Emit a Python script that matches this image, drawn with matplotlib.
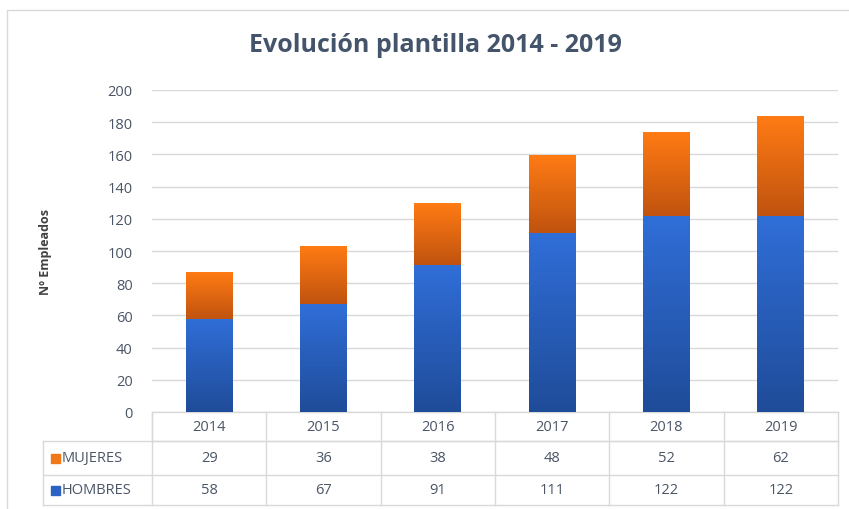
import numpy as np
import matplotlib
import matplotlib.pyplot as plt
from matplotlib.colors import LinearSegmentedColormap
from matplotlib.patches import Rectangle

matplotlib.use("Agg")

years = ["2014", "2015", "2016", "2017", "2018", "2019"]
hombres = [58, 67, 91, 111, 122, 122]
mujeres = [29, 36, 38, 48, 52, 62]
series_names = ["MUJERES", "HOMBRES"]

plt.rcParams["font.family"] = ["Open Sans", "DejaVu Sans"]
grid_c = "#D9D9D9"
text_c = "#4A5566"

fig = plt.figure(figsize=(8.49, 5.10), dpi=100)
W, H = 849, 510
ax = fig.add_axes([152 / W, 1 - 413 / H, 686 / W, 322 / H])

# outer chart border (bottom and right run off the picture)
fig.patches.append(Rectangle((7 / W, -0.1), 1.0, 1.1 - 11 / H, transform=fig.transFigure,
                             fill=False, ec="#D9D9D9", lw=1.0, zorder=0))

x = np.arange(len(years))
bw = 0.41
blue = LinearSegmentedColormap.from_list("b", ["#1F4C99", "#306ED8"])
orange = LinearSegmentedColormap.from_list("o", ["#C0530F", "#FF7B14"])
grad = np.linspace(0, 1, 256).reshape(-1, 1)

bars_h = ax.bar(x, hombres, bw, color="none", edgecolor="none")
bars_m = ax.bar(x, mujeres, bw, bottom=hombres, color="none", edgecolor="none")
for bars, cmap in ((bars_h, blue), (bars_m, orange)):
    for b in bars:
        x0, y0 = b.get_x(), b.get_y()
        ax.imshow(grad, extent=[x0, x0 + b.get_width(), y0, y0 + b.get_height()],
                  origin="lower", aspect="auto", cmap=cmap, zorder=3)

ax.set_xlim(-0.5, len(years) - 0.5)
ax.set_ylim(0, 200)
ax.set_yticks(range(0, 201, 20))
ax.set_xticks([])
ax.grid(axis="y", color=grid_c, lw=1.0)
ax.set_axisbelow(True)
for s in ax.spines.values():
    s.set_visible(False)
ax.tick_params(axis="y", length=0, pad=14, labelsize=10.5, labelcolor=text_c)
ax.set_ylabel("Nº Empleados", fontsize=9, fontweight="bold", color="#404040", labelpad=40)

fig.text(435 / W, 1 - 46 / H, "Evolución plantilla 2014 - 2019", ha="center", va="center",
         fontsize=18, fontweight="bold", color="#44546A")

# data table under the axis
trans = ax.transAxes
rows_y = [0, -29 / 322, -63 / 322, -93 / 322]
left_lab = -109 / 686
kw = dict(transform=trans, color=grid_c, lw=1.0, clip_on=False)
ax.plot([0, 1], [0, 0], **kw)
ax.plot([0, 1], [rows_y[1]] * 2, **kw)
for yy in rows_y[1:]:
    ax.plot([left_lab, 1], [yy, yy], **kw)
ax.plot([0, 0], [0, rows_y[1]], **kw)
ax.plot([left_lab, left_lab], [rows_y[1], rows_y[3]], **kw)
for i in range(len(years) + 1):
    ax.plot([i / len(years)] * 2, [0, rows_y[3]], **kw)

for i, yr in enumerate(years):
    cx = (i + 0.5) / len(years)
    ax.text(cx, (rows_y[0] + rows_y[1]) / 2, yr, transform=trans, ha="center", va="center",
            fontsize=10.5, color=text_c)
    ax.text(cx, (rows_y[1] + rows_y[2]) / 2, str(mujeres[i]), transform=trans, ha="center",
            va="center", fontsize=10.5, color=text_c)
    ax.text(cx, (rows_y[2] + rows_y[3]) / 2, str(hombres[i]), transform=trans, ha="center",
            va="center", fontsize=10.5, color=text_c)

for k, (name, col) in enumerate(zip(series_names, ["#F07818", "#2B62C4"])):
    yc = (rows_y[k + 1] + rows_y[k + 2]) / 2
    ax.add_patch(Rectangle((-101 / 686, yc - 5 / 322), 9 / 686, 9 / 322, transform=trans,
                           color=col, clip_on=False))
    ax.text(-90 / 686, yc, name, transform=trans, ha="left", va="center",
            fontsize=10.5, color=text_c)

fig.savefig("out.png", dpi=100)
